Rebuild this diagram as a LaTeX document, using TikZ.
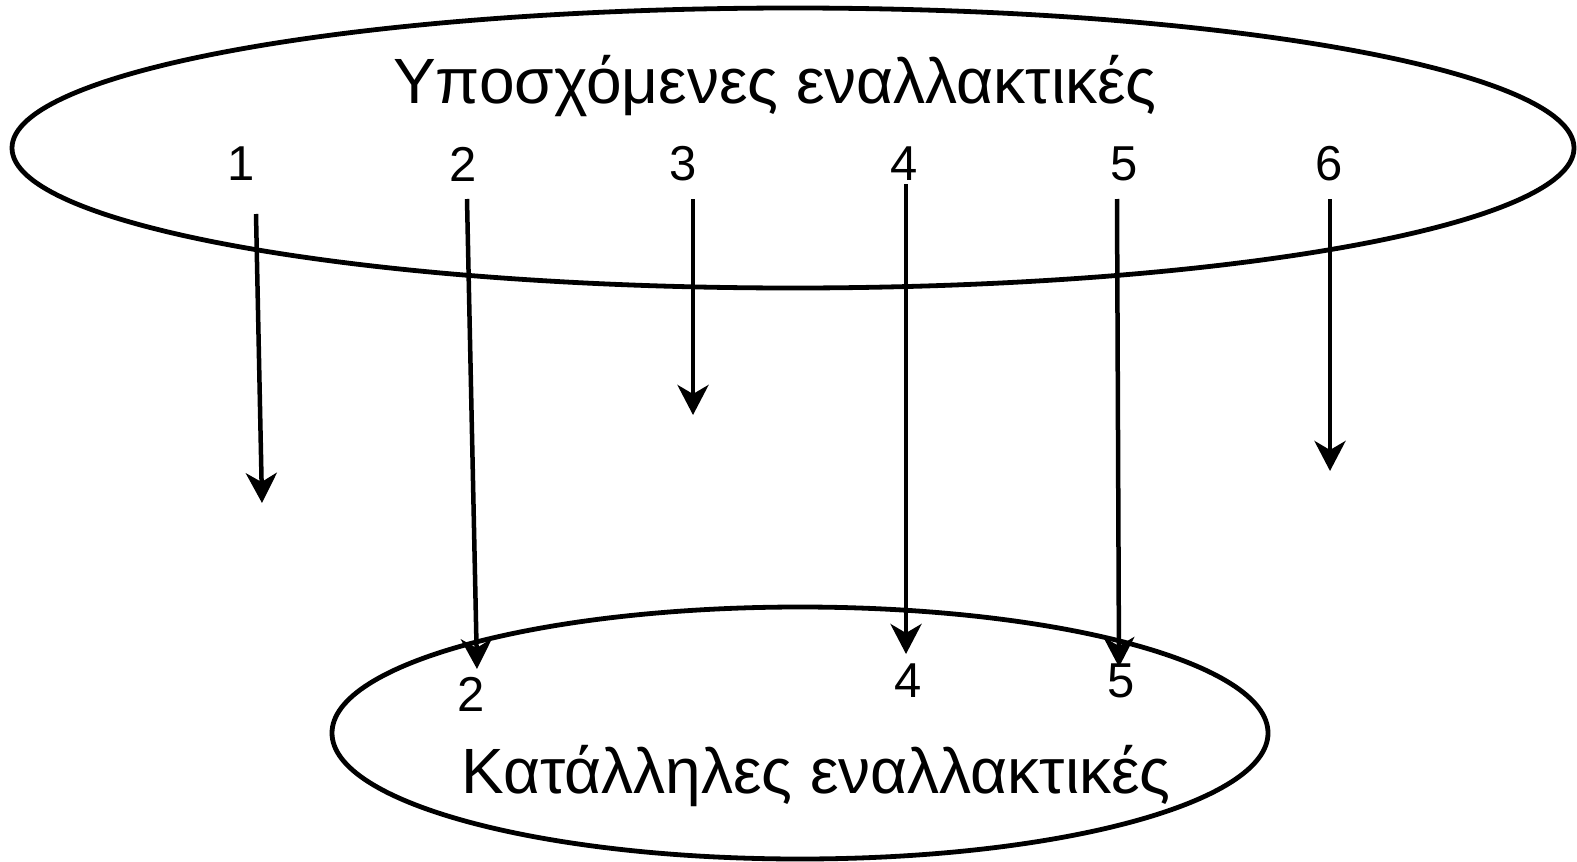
\documentclass[tikz,border=0pt]{standalone}
\usepackage{fontspec}
\setmainfont{Liberation Sans}
\usetikzlibrary{arrows.meta}
\begin{document}
\begin{tikzpicture}[x=1pt,y=-1pt,
  oval/.style={draw, line width=4.8pt},
  num/.style={font=\fontsize{49}{55}\selectfont, inner sep=0pt},
  title/.style={font=\fontsize{64}{72}\selectfont, inner sep=0pt},
  arr/.style={line width=4.5pt, -{Stealth[length=30pt,width=31pt,inset=9pt]}}]
\useasboundingbox (0,0) rectangle (1577,862);
\draw[oval] (793,148) ellipse [x radius=781, y radius=140];
\draw[oval] (800,733) ellipse [x radius=468, y radius=126];
\node[title] (t1) at (775,86) {Υποσχόμενες εναλλακτικές};
\node[title] (t2) at (816,776) {Κατάλληλες εναλλακτικές};
\node[num] (n1) at (241,164) {1};
\node[num] (n2) at (463,164) {2};
\node[num] (n3) at (683,164) {3};
\node[num] (n4) at (904,164) {4};
\node[num] (n5) at (1124,164) {5};
\node[num] (n6) at (1329,164) {6};
\node[num] (m2) at (471,694) {2};
\node[num] (m4) at (908,681) {4};
\node[num] (m5) at (1121,681) {5};
\coordinate (s1) at (256,214); \coordinate (e1) at (262,503);
\coordinate (s2) at (467,199); \coordinate (e2) at (477,669);
\coordinate (s3) at (693,199); \coordinate (e3) at (693,415);
\coordinate (s4) at (906,184); \coordinate (e4) at (906,654);
\coordinate (s5) at (1117,199); \coordinate (e5) at (1119,667);
\coordinate (s6) at (1330,199); \coordinate (e6) at (1330,471);
\draw[arr] (s1) -- (e1);
\draw[arr] (s2) -- (e2);
\draw[arr] (s3) -- (e3);
\draw[arr] (s4) -- (e4);
\draw[arr] (s5) -- (e5);
\draw[arr] (s6) -- (e6);
\end{tikzpicture}
\end{document}
